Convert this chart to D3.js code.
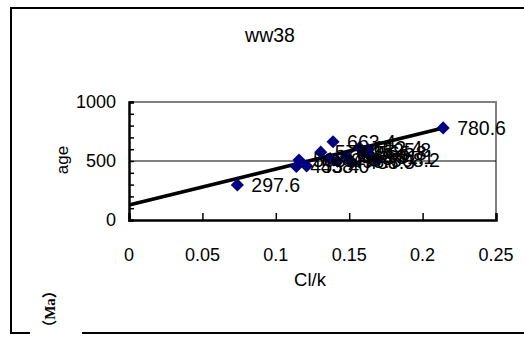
<!DOCTYPE html>
<html>
<head>
<meta charset="utf-8">
<script src="https://cdn.jsdelivr.net/npm/d3@7"></script>
<style>
  body { margin: 0; background: #fff; }
  text { font-family: Arial, "Liberation Sans", sans-serif; }
</style>
</head>
<body>
<div id="chart"></div>
<script>
// sample values (Cl/k vs age)
const clk  = [0.0738, 0.114, 0.1158, 0.121, 0.1306, 0.139, 0.137, 0.142, 0.148, 0.152, 0.157, 0.160, 0.163, 0.165, 0.169, 0.214];
const ages = [297.6, 453.4, 508.0, 458.0, 575.1, 663.4, 520.3, 498.7, 540.6, 488.5, 612.4, 565.8, 595.8, 531.1, 508.2, 780.6];

// linear trendline end points
const trendX = [0, 0.214];
const trendY = [127, 780];

const xTicks = [0, 0.05, 0.1, 0.15, 0.2, 0.25];
const yTicks = [0, 500, 1000];
const yMinor = d3.range(0, 1001, 100);

const W = 524, H = 338;
const plot = { left: 129, right: 496, top: 102, bottom: 220 };

const svg = d3.select('#chart').append('svg')
  .attr('width', W)
  .attr('height', H);

// outer frame, bottom edge broken where the (Ma) label sits
svg.append('path')
  .attr('d', `M30,333 H11 V8 H${W + 5}`)
  .attr('fill', 'none').attr('stroke', '#000').attr('stroke-width', 2);
svg.append('line')
  .attr('x1', 82).attr('x2', W + 5).attr('y1', 333).attr('y2', 333)
  .attr('stroke', '#000').attr('stroke-width', 2);

const x = d3.scaleLinear().domain([0, 0.25]).range([plot.left, plot.right]);
const y = d3.scaleLinear().domain([0, 1000]).range([plot.bottom, plot.top]);

// plot area border (gray top/right)
svg.append('path')
  .attr('d', `M${plot.left},${plot.top} H${plot.right} V${plot.bottom}`)
  .attr('fill', 'none').attr('stroke', '#808080').attr('stroke-width', 2);

// gridline at 500
svg.append('line')
  .attr('x1', plot.left).attr('x2', plot.right)
  .attr('y1', y(500)).attr('y2', y(500))
  .attr('stroke', '#000').attr('stroke-width', 1);

// y axis
const yAxis = svg.append('g')
  .attr('transform', `translate(${plot.left},0)`)
  .call(d3.axisRight(y).tickValues(yMinor).tickSize(5).tickFormat(''));
yAxis.select('.domain').attr('stroke-width', 2.5);
yAxis.selectAll('.tick line').attr('stroke-width', 1.5);

svg.append('g').selectAll('text')
  .data(yTicks).enter().append('text')
  .attr('x', plot.left - 13)
  .attr('y', d => y(d))
  .attr('dy', '0.35em')
  .attr('text-anchor', 'end')
  .attr('font-size', 18)
  .text(d => d);

// x axis
const xAxis = svg.append('g')
  .attr('transform', `translate(0,${plot.bottom})`)
  .call(d3.axisTop(x).tickValues(xTicks).tickSize(7).tickFormat(''));
xAxis.select('.domain').attr('stroke-width', 2.5);
xAxis.selectAll('.tick line').attr('stroke-width', 1.5);

svg.append('g').selectAll('text')
  .data(xTicks).enter().append('text')
  .attr('x', d => x(d))
  .attr('y', 255)
  .attr('dy', '0.35em')
  .attr('text-anchor', 'middle')
  .attr('font-size', 18)
  .text(d => d);

// trendline
svg.append('line')
  .attr('x1', x(trendX[0])).attr('y1', y(trendY[0]))
  .attr('x2', x(trendX[1])).attr('y2', y(trendY[1]))
  .attr('stroke', '#000').attr('stroke-width', 3.5);

// diamonds
const pts = clk.map((v, i) => ({ cx: v, age: ages[i] }));
svg.append('g').selectAll('path')
  .data(pts).enter().append('path')
  .attr('d', d3.symbol().type(d3.symbolDiamond2).size(110))
  .attr('transform', d => `translate(${x(d.cx)},${y(d.age)})`)
  .attr('fill', '#000080');

// value labels
svg.append('g').selectAll('text')
  .data(pts).enter().append('text')
  .attr('x', d => x(d.cx) + 14)
  .attr('y', d => y(d.age))
  .attr('dy', '0.35em')
  .attr('font-size', 19.5)
  .text(d => d.age.toFixed(1));

// titles
svg.append('text')
  .attr('x', 270).attr('y', 35).attr('dy', '0.35em')
  .attr('text-anchor', 'middle').attr('font-size', 19.5)
  .text('ww38');

svg.append('text')
  .attr('x', 310).attr('y', 280).attr('dy', '0.35em')
  .attr('text-anchor', 'middle').attr('font-size', 18.5)
  .text('Cl/k');

svg.append('text')
  .attr('transform', 'translate(62,160) rotate(-90)')
  .attr('dy', '0.35em')
  .attr('text-anchor', 'middle').attr('font-size', 17)
  .text('age');

svg.append('text')
  .attr('transform', 'translate(50,309) rotate(-90)')
  .attr('dy', '0.35em')
  .attr('text-anchor', 'middle')
  .attr('font-size', 15)
  .attr('font-weight', 'bold')
  .style('font-family', '"Liberation Serif", "Noto Sans CJK SC", serif')
  .text('（Ma）');
</script>
</body>
</html>
